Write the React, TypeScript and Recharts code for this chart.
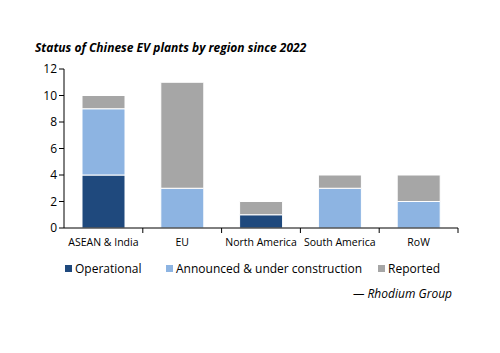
import { BarChart, Bar, XAxis, YAxis } from 'recharts'

const regions = ['ASEAN & India', 'EU', 'North America', 'South America', 'RoW']
const operational = [4, 0, 1, 0, 0]
const announced = [5, 3, 0, 3, 2]
const reported = [1, 8, 1, 1, 2]
const yTicks = [0, 2, 4, 6, 8, 10, 12]

const data = regions.map((region, i) => ({
  region,
  operational: operational[i],
  announced: announced[i],
  reported: reported[i],
}))

const FONT = '"Open Sans", sans-serif'

const series = [
  { key: 'operational', name: 'Operational', color: '#1F497D', left: 65 },
  { key: 'announced', name: 'Announced & under construction', color: '#8DB4E2', left: 166 },
  { key: 'reported', name: 'Reported', color: '#A6A6A6', left: 378 },
]

// plot spans x 64..458, so each category is 394/5 wide
const CategoryTick = (props: any) => {
  const { x, y, payload } = props
  const half = 394 / regions.length / 2
  return (
    <g>
      <line x1={x + half} x2={x + half} y1={y - 8} y2={y - 3} stroke="#000" />
      <text x={x} y={y + 10} textAnchor="middle" fontSize={10.5} fontFamily={FONT} fill="#000">
        {payload.value}
      </text>
    </g>
  )
}

export default function App() {
  return (
    <div style={{ position: 'absolute', left: 0, top: 0, width: 500, height: 353, background: '#fff' }}>
      <div
        style={{
          position: 'absolute',
          left: 35,
          top: 39,
          fontFamily: FONT,
          fontSize: 12,
          fontWeight: 700,
          fontStyle: 'italic',
          color: '#000',
        }}
      >
        Status of Chinese EV plants by region since 2022
      </div>
      <BarChart
        width={500}
        height={353}
        data={data}
        margin={{ top: 69, right: 42, bottom: 105, left: 34 }}
        barSize={43}
      >
        <XAxis
          dataKey="region"
          tick={<CategoryTick />}
          tickLine={false}
          axisLine={{ stroke: '#000' }}
          interval={0}
          height={20}
        />
        <YAxis
          domain={[0, 12]}
          ticks={yTicks}
          width={30}
          tick={{ fontSize: 12, fontFamily: FONT, fill: '#000' }}
          tickLine={{ stroke: '#000' }}
          tickSize={5}
          axisLine={{ stroke: '#000' }}
        />
        {series.map((s) => (
          <Bar
            key={s.key}
            dataKey={s.key}
            name={s.name}
            stackId="a"
            fill={s.color}
            stroke="#fff"
            strokeWidth={1}
            isAnimationActive={false}
          />
        ))}
      </BarChart>
      {series.map((s) => (
        <div
          key={s.key}
          style={{
            position: 'absolute',
            left: s.left,
            top: 260,
            display: 'flex',
            alignItems: 'center',
            whiteSpace: 'nowrap',
            fontFamily: FONT,
            fontSize: 12,
            color: '#000',
          }}
        >
          <span style={{ width: 7, height: 7, background: s.color, marginRight: 3, display: 'inline-block' }} />
          {s.name}
        </div>
      ))}
      <div
        style={{
          position: 'absolute',
          right: 48,
          top: 285,
          fontFamily: FONT,
          fontSize: 12,
          fontStyle: 'italic',
          color: '#000',
        }}
      >
        — Rhodium Group
      </div>
    </div>
  )
}
